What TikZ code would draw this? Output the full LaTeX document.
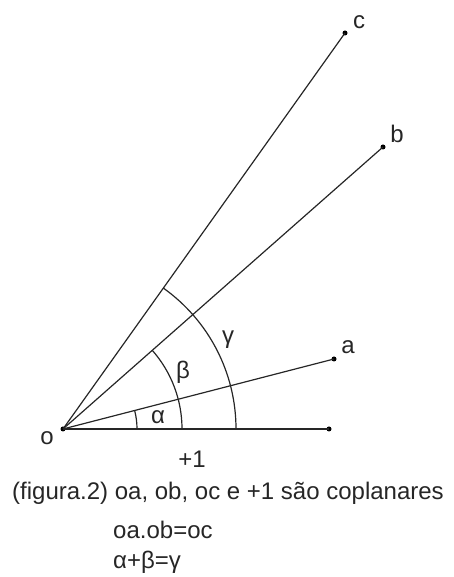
\documentclass[tikz,border=0pt]{standalone}
\usepackage{fontspec}
\setmainfont{Liberation Sans}
\begin{document}
\begin{tikzpicture}[x=1pt,y=1pt,
  ray/.style={line width=1.2pt,draw=black!85},
  arcline/.style={line width=1.2pt,draw=black!85},
  dot/.style={circle,fill=black,inner sep=0pt,minimum size=5pt},
  lbl/.style={inner sep=0pt,font=\fontsize{24}{28}\selectfont,text=black!85},
  captext/.style={inner sep=0pt,anchor=west,font=\fontsize{24}{28}\selectfont,text=black!85}]
\useasboundingbox (0,0) rectangle (454,577);
% points
\node[dot] (o) at (63,148) {};
\node[dot] (one) at (329,148) {};
\node[dot] (a) at (334,218) {};
\node[dot] (b) at (383,430) {};
\node[dot] (c) at (345,544) {};
% rays
\draw[ray] (o.center) -- (one.center);
\draw[ray] (o.center) -- (a.center);
\draw[ray] (o.center) -- (b.center);
\draw[ray] (o.center) -- (c.center);
% arcs
\draw[arcline] (o.center) ++(0:74) arc[start angle=0,end angle=14.5,radius=74];
\draw[arcline] (o.center) ++(0:119) arc[start angle=0,end angle=41.4,radius=119];
\draw[arcline] (o.center) ++(0:173) arc[start angle=0,end angle=54.5,radius=173];
% labels
\node[lbl] (lo) at (47,139) {o};
\node[lbl] (la) at (348,230) {a};
\node[lbl] (lb) at (397,443) {b};
\node[lbl] (lc) at (359,555) {c};
\node[lbl] (lone) at (192,118) {+1};
\node[lbl] (lal) at (158,160) {α};
\node[lbl] (lbe) at (183,205) {β};
\node[lbl] (lga) at (228,237) {γ};
% caption
\node[captext] (cap1) at (12,84) {(figura.2) oa, ob, oc e +1 são coplanares};
\node[captext] (cap2) at (113,47) {oa.ob=oc};
\node[captext] (cap3) at (113,15) {α+β=γ};
\end{tikzpicture}
\end{document}
